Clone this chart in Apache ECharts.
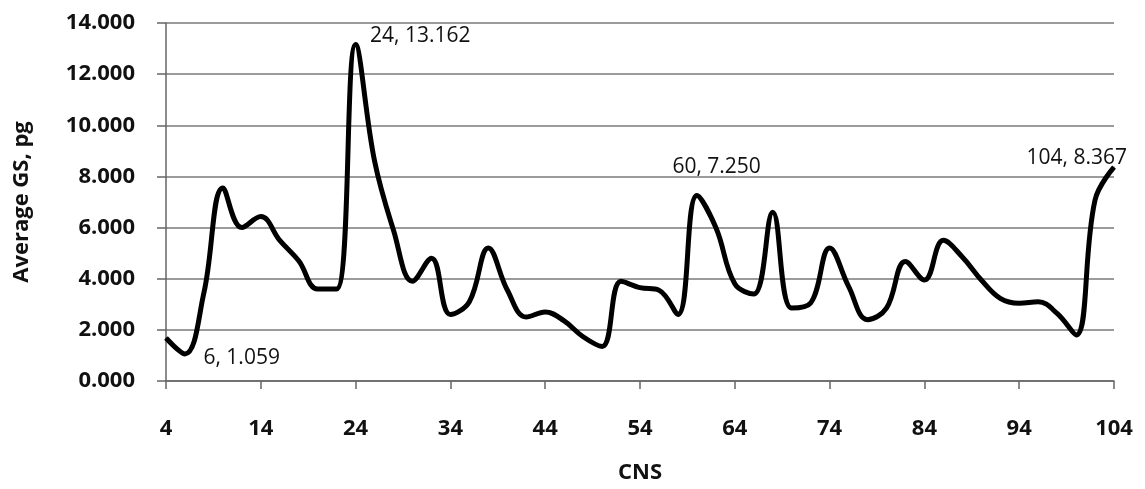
<!DOCTYPE html>
<html>
<head>
<meta charset="utf-8">
<script src="https://cdn.jsdelivr.net/npm/echarts@6/dist/echarts.min.js"></script>
<style>html,body{margin:0;padding:0;background:#fff}#c{width:1145px;height:489px}</style>
</head>
<body>
<div id="c"></div>
<script>
const categories = [4,6,8,10,12,14,16,18,20,22,24,26,28,30,32,34,36,38,40,42,44,46,48,50,52,54,56,58,60,62,64,66,68,70,72,74,76,78,80,82,84,86,88,90,92,94,96,98,100,102,104];
const gsValues = [1.68,1.059,3.45,7.55,6.0,6.43,5.5,4.7,3.6,3.6,13.162,8.6,5.9,3.9,4.8,2.6,3.1,5.2,3.56,2.5,2.7,2.35,1.73,1.35,3.9,3.65,3.55,2.6,7.250,6.0,3.8,3.4,6.6,2.85,3.05,5.2,3.7,2.4,2.85,4.67,3.95,5.5,4.85,3.95,3.23,3.04,3.1,2.64,1.8,7.08,8.367];
const yTicks = [0,2,4,6,8,10,12,14];
const annotatedX = [6,24,60,104];
const annotatedOffsets = {6:[13,4],24:[9,-8],60:[-30,-29],104:[-93,-9]};

const font = '"Open Sans", "DejaVu Sans", sans-serif';
const data = gsValues.map((v,i)=>{
  const x = categories[i];
  if(annotatedX.indexOf(x) < 0) return v;
  return {value:v,label:{show:true,position:'right',distance:5,offset:annotatedOffsets[x],formatter:x+', '+v.toFixed(3),fontFamily:font,fontSize:21,fontWeight:500,color:'#111'}};
});

const chart = echarts.init(document.getElementById('c'));
chart.setOption({
  animation:false,
  backgroundColor:'#fff',
  grid:{left:166,right:31,top:23,bottom:108,containLabel:false},
  xAxis:{
    type:'category',data:categories,boundaryGap:false,
    name:'CNS',nameLocation:'middle',nameGap:81,
    nameTextStyle:{fontFamily:font,fontSize:22,fontWeight:'bold',color:'#111'},
    axisLine:{lineStyle:{color:'#666',width:1.5}},
    axisTick:{interval:4,length:8,lineStyle:{color:'#666',width:1.5}},
    axisLabel:{interval:4,margin:37,fontFamily:font,fontSize:22,fontWeight:'bold',color:'#111'},
    splitLine:{show:false}
  },
  yAxis:{
    type:'value',min:yTicks[0],max:yTicks[yTicks.length-1],interval:2,
    name:'Average GS, pg',nameLocation:'middle',nameGap:133,nameRotate:90,
    nameTextStyle:{fontFamily:font,fontSize:22,fontWeight:'bold',color:'#111'},
    axisLine:{show:true,lineStyle:{color:'#666',width:1.5}},
    axisTick:{show:true,length:9,lineStyle:{color:'#666',width:1.5}},
    axisLabel:{margin:31,formatter:v=>v.toFixed(3),fontFamily:font,fontSize:22,fontWeight:'bold',color:'#111'},
    splitLine:{show:true,lineStyle:{color:'#7a7a7a',width:1.5}}
  },
  series:[{
    type:'line',data:data,smooth:0.4,symbol:'circle',symbolSize:1,showSymbol:true,
    itemStyle:{color:'#000'},
    lineStyle:{color:'#000',width:5},
    label:{show:false}
  }]
});
</script>
</body>
</html>
